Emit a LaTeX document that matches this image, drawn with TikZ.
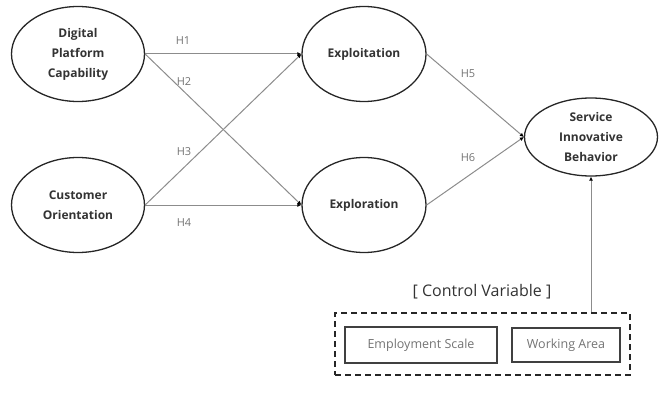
\documentclass[tikz,border=0pt]{standalone}
\usepackage{fontspec}
\setmainfont{Open Sans}
\usetikzlibrary{shapes.geometric,arrows.meta}
\begin{document}
\begin{tikzpicture}[x=1pt,y=-1pt,
  var/.style={ellipse,draw=black!85,line width=1.3pt,inner sep=0pt,align=center,
    font=\fontsize{12}{20}\selectfont\bfseries,text=black!80},
  path/.style={draw=black!45,line width=1pt,-{Latex[length=4pt,width=4pt,black]}},
  hlab/.style={font=\fontsize{11}{12}\selectfont,text=black!55},
  cbox/.style={draw=black!75,line width=1.2pt,inner sep=0pt,font=\fontsize{12.5}{14}\selectfont,text=black!55}]
\useasboundingbox (0,0) rectangle (659,409);
\node[var,minimum width=133pt,minimum height=95pt] (dpc) at (78,54) {Digital\\Platform\\Capability};
\node[var,minimum width=133pt,minimum height=95pt] (co) at (78,205) {Customer\\Orientation};
\node[var,minimum width=124pt,minimum height=95pt] (exploit) at (364,54) {Exploitation};
\node[var,minimum width=124pt,minimum height=95pt] (explore) at (364,205) {Exploration};
\node[var,minimum width=133pt,minimum height=78pt] (sib) at (591,137) {Service\\Innovative\\Behavior};
\draw[path] (dpc.east) -- (exploit.west);
\draw[path] (dpc.east) -- (explore.west);
\draw[path] (co.east) -- (exploit.west);
\draw[path] (co.east) -- (explore.west);
\draw[path] (exploit.east) -- (sib.west);
\draw[path] (explore.east) -- (sib.west);
\node[hlab] (h1) at (183,41) {H1};
\node[hlab] (h2) at (184,82) {H2};
\node[hlab] (h3) at (184,152) {H3};
\node[hlab] (h4) at (184,223) {H4};
\node[hlab] (h5) at (468,74) {H5};
\node[hlab] (h6) at (468,158) {H6};
\node[font=\fontsize{16}{18}\selectfont,text=black!80] (cvlab) at (482,292) {[ Control Variable ]};
\node[draw=black!85,line width=2pt,dash pattern=on 6pt off 4pt,minimum width=295pt,minimum height=62pt,inner sep=0pt] (ctrl) at (482.5,344) {};
\node[cbox,minimum width=152pt,minimum height=36pt] (emp) at (421,345) {Employment Scale};
\node[cbox,minimum width=108pt,minimum height=34pt] (wa) at (566,345) {Working Area};
\draw[path] (ctrl.north -| sib.south) -- (sib.south);
\end{tikzpicture}
\end{document}
